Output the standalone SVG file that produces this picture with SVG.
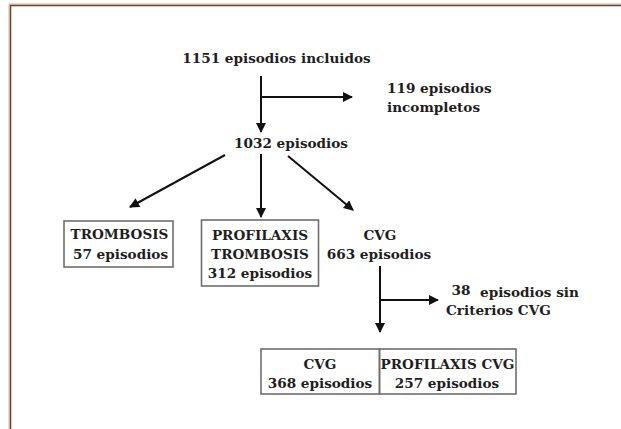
<svg xmlns="http://www.w3.org/2000/svg" width="621" height="429" viewBox="0 0 621 429">
  <style>
    text { font-family: "DejaVu Serif", "Liberation Serif", serif; font-weight: bold; font-size: 13.6px; fill: #1e1e1e; }
    .c { text-anchor: middle; }
    .box { fill: none; stroke: #6e6e6e; stroke-width: 1.6; }
    .arrow { fill: none; stroke: #111; stroke-width: 2; marker-end: url(#head); }
  </style>
  <defs>
    <marker id="head" viewBox="0 0 10 10" refX="9" refY="5" markerWidth="5.5" markerHeight="5" orient="auto" markerUnits="strokeWidth">
      <path d="M0,0 L10,5 L0,10 z" fill="#111"/>
    </marker>
  </defs>
  <rect width="621" height="429" fill="#fff"/>
  <!-- page frame: top and left rule -->
  <g id="frame">
    <path d="M9,429 V4 H621" fill="none" stroke="#c9b6a3" stroke-width="1"/>
    <path d="M10.5,429 V5.5 H621" fill="none" stroke="#6b3f1f" stroke-width="1.5"/>
  </g>

  <g id="connectors">
    <line class="arrow" x1="261" y1="76" x2="261" y2="132"/>
    <line class="arrow" x1="261" y1="97" x2="352" y2="97"/>
    <line class="arrow" x1="225" y1="155" x2="130" y2="207"/>
    <line class="arrow" x1="261" y1="154" x2="261" y2="217"/>
    <line class="arrow" x1="288" y1="156" x2="353" y2="210"/>
    <line class="arrow" x1="380" y1="266" x2="380" y2="332"/>
    <line class="arrow" x1="380" y1="300" x2="438" y2="300"/>
  </g>

  <g id="n-incluidos">
    <text class="c" x="276.5" y="63">1151 episodios incluidos</text>
  </g>
  <g id="n-incompletos">
    <text x="387" y="93">119 episodios</text>
    <text x="387" y="112">incompletos</text>
  </g>
  <g id="n-1032">
    <text class="c" x="291" y="148">1032 episodios</text>
  </g>
  <g id="n-trombosis">
    <rect class="box" x="64" y="221" width="109" height="46"/>
    <text class="c" x="119.5" y="239">TROMBOSIS</text>
    <text class="c" x="120.5" y="259">57 episodios</text>
  </g>
  <g id="n-profilaxis">
    <rect class="box" x="201.5" y="220" width="117" height="66"/>
    <text class="c" x="260" y="240">PROFILAXIS</text>
    <text class="c" x="260" y="259">TROMBOSIS</text>
    <text class="c" x="260" y="278">312 episodios</text>
  </g>
  <g id="n-cvg">
    <text class="c" x="380" y="240">CVG</text>
    <text class="c" x="379" y="259">663 episodios</text>
  </g>
  <g id="n-sin-criterios">
    <text x="451.5" y="295">38</text>
    <text x="480" y="297">episodios sin</text>
    <text x="446" y="315">Criterios CVG</text>
  </g>
  <g id="n-cvg-final">
    <rect class="box" x="261" y="349" width="118.5" height="45"/>
    <text class="c" x="320" y="369">CVG</text>
    <text class="c" x="320" y="388">368 episodios</text>
  </g>
  <g id="n-profilaxis-cvg">
    <rect class="box" x="379.5" y="349" width="136.5" height="45"/>
    <text class="c" x="447.5" y="369">PROFILAXIS CVG</text>
    <text class="c" x="447" y="388">257 episodios</text>
  </g>
</svg>
